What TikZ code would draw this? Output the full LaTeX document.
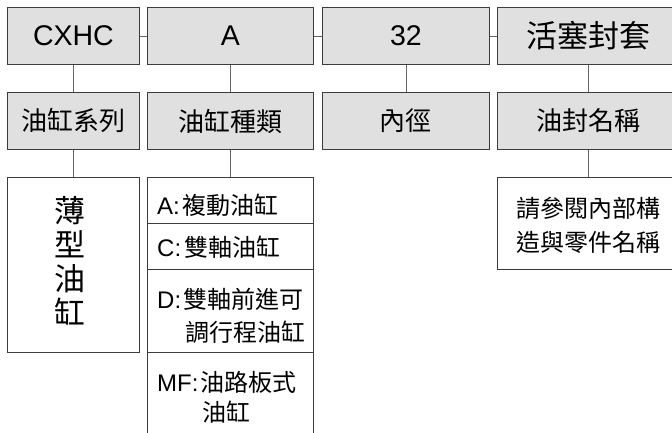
\documentclass[tikz,border=0pt]{standalone}
\usepackage{fontspec}
\setmainfont{Liberation Sans}
\newfontfamily\cjk{Noto Sans CJK TC}
\definecolor{boxgray}{RGB}{224,224,224}
\definecolor{edge}{RGB}{60,60,60}
\definecolor{wire}{RGB}{100,100,100}
\begin{document}
\begin{tikzpicture}[x=1pt,y=-1pt,
  graybox/.style={draw=edge,fill=boxgray,line width=0.9pt},
  whitebox/.style={draw=edge,fill=white,line width=0.9pt},
  wire/.style={draw=wire,line width=0.9pt},
  txt/.style={inner sep=0pt,text=black}]
\useasboundingbox (0,0) rectangle (672,432);
\clip (0,0) rectangle (672,432);
% top row
\node[graybox,minimum width=132pt,minimum height=57pt,anchor=north west] (t1) at (7,7) {};
\node[graybox,minimum width=166pt,minimum height=57pt,anchor=north west] (t2) at (147,7) {};
\node[graybox,minimum width=167pt,minimum height=57pt,anchor=north west] (t3) at (322,7) {};
\node[graybox,minimum width=182pt,minimum height=57pt,anchor=north west] (t4) at (497,7) {};
\node[txt,font=\fontsize{28.5}{30}\selectfont] (t1l) at (t1) {CXHC};
\node[txt,font=\fontsize{28.5}{30}\selectfont] (t2l) at (t2) {A};
\node[txt,font=\fontsize{28.5}{30}\selectfont] (t3l) at (t3) {32};
\node[txt,font=\cjk\fontsize{31}{33}\selectfont] (t4l) at (t4) {活塞封套};
% second row
\node[graybox,minimum width=132pt,minimum height=57pt,anchor=north west] (m1) at (7,92) {};
\node[graybox,minimum width=166pt,minimum height=57pt,anchor=north west] (m2) at (147,92) {};
\node[graybox,minimum width=167pt,minimum height=57pt,anchor=north west] (m3) at (322,92) {};
\node[graybox,minimum width=182pt,minimum height=57pt,anchor=north west] (m4) at (497,92) {};
\node[txt,font=\cjk\fontsize{26}{28}\selectfont] (m1l) at (m1) {油缸系列};
\node[txt,font=\cjk\fontsize{26}{28}\selectfont] (m2l) at (m2) {油缸種類};
\node[txt,font=\cjk\fontsize{26}{28}\selectfont] (m3l) at (m3) {內徑};
\node[txt,font=\cjk\fontsize{26}{28}\selectfont] (m4l) at (m4) {油封名稱};
% third row
\node[whitebox,minimum width=132pt,minimum height=175pt,anchor=north west] (b1) at (7,177) {};
\node[whitebox,minimum width=166pt,minimum height=46pt,anchor=north west] (ba) at (147,177) {};
\node[whitebox,minimum width=166pt,minimum height=46pt,anchor=north west] (bc) at (147,223) {};
\node[whitebox,minimum width=166pt,minimum height=83pt,anchor=north west] (bd) at (147,269) {};
\node[whitebox,minimum width=166pt,minimum height=95pt,anchor=north west] (bm) at (147,352) {};
\node[whitebox,minimum width=182pt,minimum height=92pt,anchor=north west] (b4) at (497,177) {};
\node[txt,font=\cjk\fontsize{31}{34}\selectfont,align=center] (b1l) at (70,261) {薄\\型\\油\\缸};
\node[txt,font=\fontsize{24}{26}\selectfont,anchor=west] (bal) at (157,205) {A:\kern3pt{\cjk 複動油缸}};
\node[txt,font=\fontsize{24}{26}\selectfont,anchor=west] (bcl) at (157,247) {C:\kern3pt{\cjk 雙軸油缸}};
\node[txt,font=\fontsize{24}{26}\selectfont,anchor=west] (bdl1) at (157,299) {D:\kern2pt{\cjk 雙軸前進可}};
\node[txt,font=\cjk\fontsize{24}{26}\selectfont,anchor=west] (bdl2) at (185,332) {調行程油缸};
\node[txt,font=\fontsize{24}{26}\selectfont,anchor=west] (bml1) at (157,382) {MF:\kern2pt{\cjk 油路板式}};
\node[txt,font=\cjk\fontsize{24}{26}\selectfont,anchor=west] (bml2) at (202,412) {油缸};
\node[txt,font=\cjk\fontsize{24}{34}\selectfont,align=center] (b4l) at (588,225) {請參閱內部構\\造與零件名稱};
% connectors
\draw[wire] (t1.east) -- (t2.west);
\draw[wire] (t2.east) -- (t3.west);
\draw[wire] (t3.east) -- (t4.west);
\draw[wire] (t1.south) -- (m1.north);
\draw[wire] (t2.south) -- (m2.north);
\draw[wire] (t3.south) -- (m3.north);
\draw[wire] (t4.south) -- (m4.north);
\draw[wire] (m1.south) -- (b1.north);
\draw[wire] (m2.south) -- (ba.north);
\draw[wire] (m4.south) -- (b4.north);
\end{tikzpicture}
\end{document}
